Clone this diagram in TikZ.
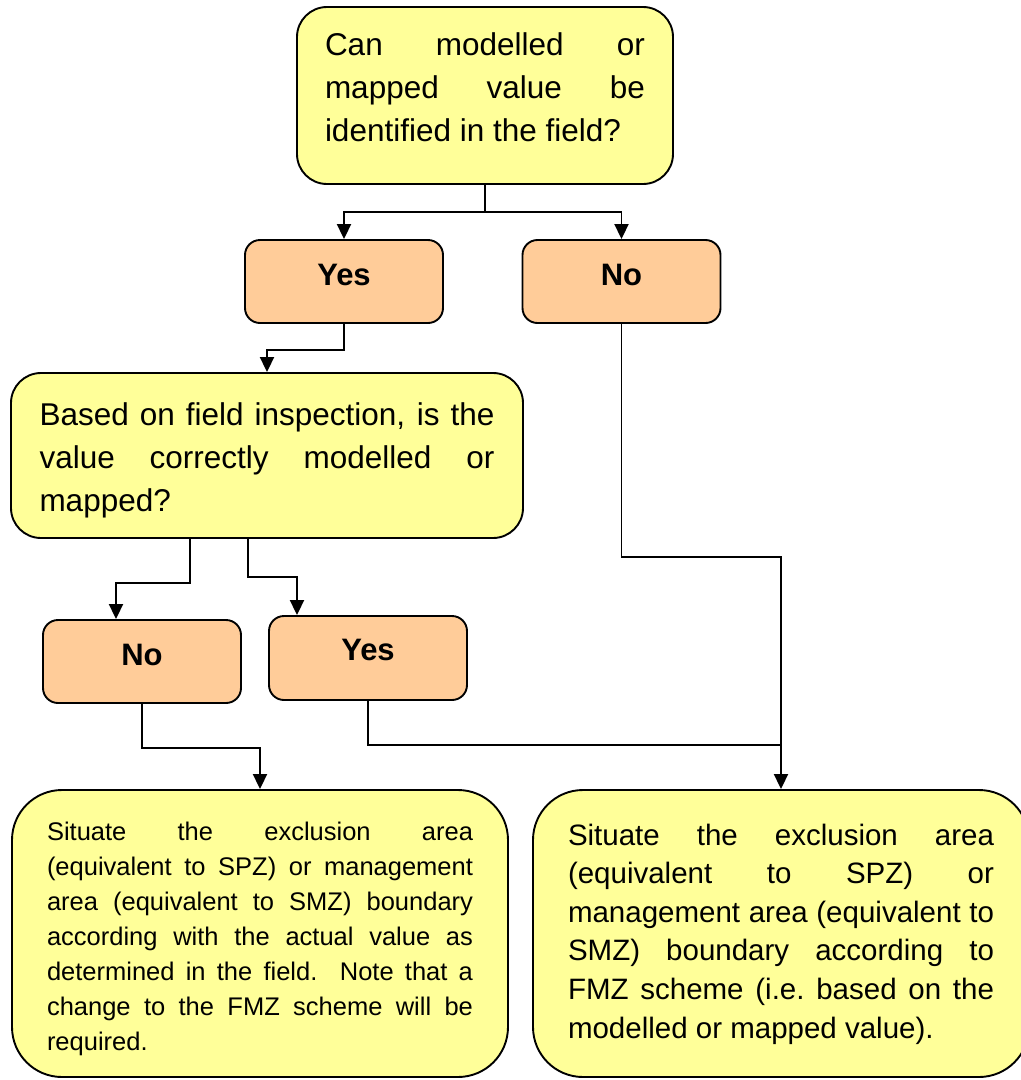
\documentclass[tikz,border=0pt]{standalone}
\usepackage{fontspec}
\setmainfont{Liberation Sans}
\usetikzlibrary{arrows.meta}
\usetikzlibrary{calc}

\definecolor{qyellow}{HTML}{FFFF99}
\definecolor{apeach}{HTML}{FFCC99}
\hbadness=10000

\begin{document}
\begin{tikzpicture}[x=1pt,y=-1pt,
    box/.style={draw,line width=1.9pt,inner sep=0pt,fill=qyellow,align=justify,text height=0pt},
    choice/.style={draw,line width=1.9pt,inner sep=0pt,fill=apeach,rounded corners=15pt,minimum width=198pt,minimum height=83pt,text depth=0pt,font=\bfseries\fontsize{31}{37}\selectfont},
    flow/.style={line width=1.9pt,-{Triangle[width=14pt,length=15pt]}},
    link/.style={line width=1.9pt}]
  \useasboundingbox (0,0) rectangle (1021,1080);

  % questions
  \node[box,rounded corners=30pt,minimum width=376pt,minimum height=177pt,text width=320pt,text depth=81pt,font=\fontsize{31.5}{43}\selectfont] (q1) at (485,95.5)
    {Can modelled or\linebreak mapped value be\linebreak identified in the field?};
  \node[box,rounded corners=30pt,minimum width=512pt,minimum height=165pt,text width=455pt,text depth=61pt,font=\fontsize{31.5}{43}\selectfont] (q2) at (267,455.5)
    {Based on field inspection, is the\linebreak value correctly modelled or\linebreak mapped?};

  % answers
  \node[choice,text height=7pt] (y1) at (344,281.5) {Yes};
  \node[choice,text height=7pt] (n1) at (621.5,281.5) {No};
  \node[choice,text height=7pt] (n2) at (142,661.5) {No};
  \node[choice,text height=4pt,minimum height=84pt] (y2) at (368,658) {Yes};

  % outcomes
  \node[box,rounded corners=50pt,minimum width=496pt,minimum height=287pt,text width=426pt,text depth=187pt,font=\fontsize{25.5}{35}\selectfont] (a1) at (260,933.5)
    {Situate the exclusion area\linebreak (equivalent to SPZ) or management\linebreak area (equivalent to SMZ) boundary\linebreak according with the actual value as\linebreak determined in the field.\ \ Note that a\linebreak change to the FMZ scheme will be\linebreak required.};
  \node[box,rounded corners=50pt,minimum width=496pt,minimum height=287pt,text width=426pt,text depth=177pt,font=\fontsize{29.5}{38.6}\selectfont] (a2) at (781,933.5)
    {Situate the exclusion area\linebreak (equivalent to SPZ) or\linebreak management area (equivalent to\linebreak SMZ) boundary according to\linebreak FMZ scheme (i.e.\ based on the\linebreak modelled or mapped value).};

  \draw[flow] (q1.south) -- ++(0,27) -| (y1.north);
  \draw[flow] (q1.south) -- ++(0,27) -| (n1.north);
  \draw[flow] (y1.south) -- ++(0,26) -| (q2.north);
  \draw[flow] ($(q2.south)+(-77,0)$) -- ++(0,44) -| ($(n2.north)+(-26,0)$);
  \draw[flow] ($(q2.south)+(-19,0)$) -- ++(0,38) -| ($(y2.north)+(-71,0)$);
  \draw[flow] (n2.south) -- ++(0,44) -| (a1.north);

  \coordinate (j) at ($(a2.north)+(0,-44)$);
  \draw[flow] (n1.south) |- ($(j)+(0,-188)$) -- (a2.north);
  \draw[link] (y2.south) |- (j);
\end{tikzpicture}
\end{document}
